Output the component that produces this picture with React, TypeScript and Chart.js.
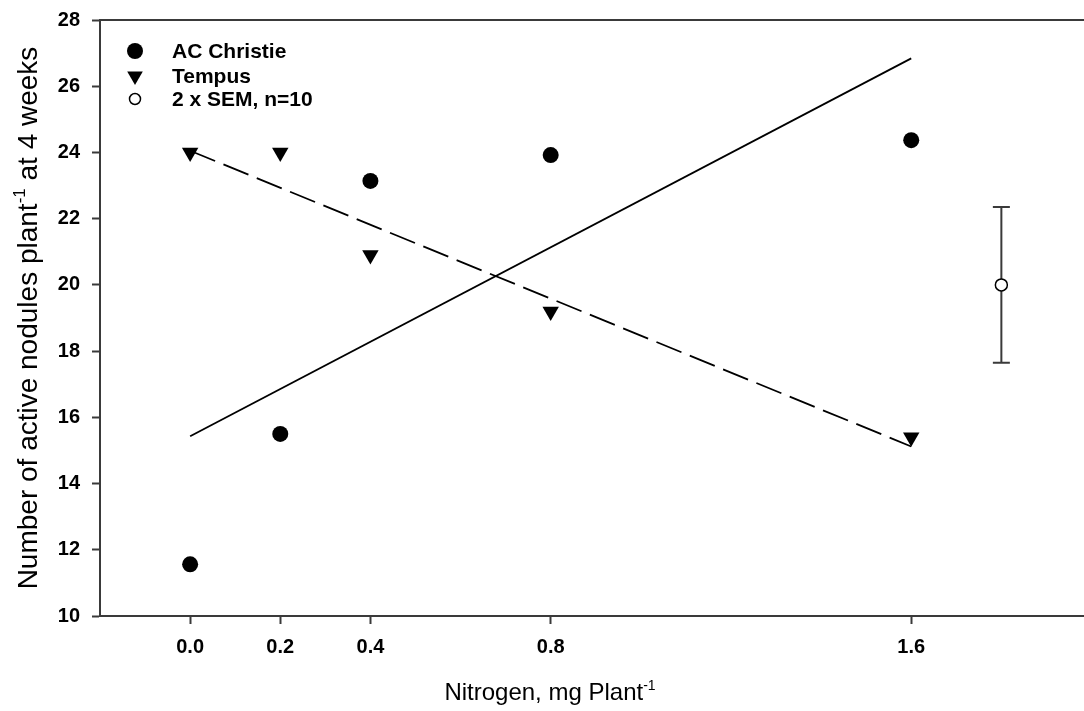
import { useEffect, useRef } from 'react';
import { Chart, registerables } from 'chart.js';

Chart.register(...registerables);

// ---- data ----
const nitrogen = [0, 0.2, 0.4, 0.8, 1.6];
const acChristie = [11.56, 15.5, 23.14, 23.92, 24.37];
const tempus = [24.0, 24.0, 20.9, 19.2, 15.4];
const fitX = [0, 1.6];
const acChristieFit = [15.43, 26.84];
const tempusFit = [24.05, 15.12];
const semX = [1.8];
const semY = [20];
const semHalf = [2.35];
const xTicks = [0, 0.2, 0.4, 0.8, 1.6];
const yTicks = [10, 12, 14, 16, 18, 20, 22, 24, 26, 28];
const legendLabels = ['AC Christie', 'Tempus', '2 x SEM, n=10'];
const xTitleParts = ['Nitrogen, mg Plant', '-1', ''];
const yTitleParts = ['Number of active nodules plant', '-1', ' at 4 weeks'];

const FONT = '"Liberation Sans", Arial, Helvetica, sans-serif';
const AXIS_COLOR = '#3a3a3a';

function drawSupText(ctx: CanvasRenderingContext2D, parts: string[], size: number, cx: number, baseline: number) {
  const supSize = Math.round(size * 0.6);
  ctx.font = `${size}px ${FONT}`;
  const w1 = ctx.measureText(parts[0]).width;
  const w3 = ctx.measureText(parts[2]).width;
  ctx.font = `${supSize}px ${FONT}`;
  const w2 = ctx.measureText(parts[1]).width;
  let x = cx - (w1 + w2 + w3) / 2;
  ctx.textAlign = 'left';
  ctx.textBaseline = 'alphabetic';
  ctx.fillStyle = '#000';
  ctx.font = `${size}px ${FONT}`;
  ctx.fillText(parts[0], x, baseline);
  x += w1;
  ctx.font = `${supSize}px ${FONT}`;
  ctx.fillText(parts[1], x, baseline - size * 0.42);
  x += w2;
  ctx.font = `${size}px ${FONT}`;
  ctx.fillText(parts[2], x, baseline);
}

const decorPlugin = {
  id: 'decor',
  beforeDatasetsDraw(chart: any) {
    const ctx: CanvasRenderingContext2D = chart.ctx;
    const xs = chart.scales.x;
    const ys = chart.scales.y;
    ctx.save();
    ctx.strokeStyle = AXIS_COLOR;
    ctx.lineWidth = 2;
    semX.forEach((sx, i) => {
      const px = xs.getPixelForValue(sx);
      const top = ys.getPixelForValue(semY[i] + semHalf[i]);
      const bot = ys.getPixelForValue(semY[i] - semHalf[i]);
      ctx.beginPath();
      ctx.moveTo(px, top);
      ctx.lineTo(px, bot);
      ctx.moveTo(px - 8.5, top);
      ctx.lineTo(px + 8.5, top);
      ctx.moveTo(px - 8.5, bot);
      ctx.lineTo(px + 8.5, bot);
      ctx.stroke();
    });
    // top frame line
    const a = chart.chartArea;
    ctx.beginPath();
    ctx.moveTo(a.left - 1, a.top);
    ctx.lineTo(a.right, a.top);
    ctx.stroke();
    ctx.restore();
  },
  afterDraw(chart: any) {
    const ctx: CanvasRenderingContext2D = chart.ctx;
    ctx.save();
    // legend
    const mx = 135;
    const rows = [51, 76, 99];
    const tx = 172;
    ctx.fillStyle = '#000';
    ctx.strokeStyle = '#000';
    // filled circle
    ctx.beginPath();
    ctx.arc(mx, rows[0], 8, 0, Math.PI * 2);
    ctx.fill();
    // down triangle
    const r = 9;
    ctx.beginPath();
    ctx.moveTo(mx, rows[1] + r);
    ctx.lineTo(mx - r * Math.sin(Math.PI / 3), rows[1] - r / 2);
    ctx.lineTo(mx + r * Math.sin(Math.PI / 3), rows[1] - r / 2);
    ctx.closePath();
    ctx.fill();
    // open circle
    ctx.beginPath();
    ctx.arc(mx, rows[2], 5.5, 0, Math.PI * 2);
    ctx.fillStyle = '#fff';
    ctx.fill();
    ctx.lineWidth = 1.5;
    ctx.stroke();
    ctx.fillStyle = '#000';
    ctx.font = `bold 21px ${FONT}`;
    ctx.textAlign = 'left';
    ctx.textBaseline = 'middle';
    legendLabels.forEach((t, i) => ctx.fillText(t, tx, rows[i] + 1));

    // axis titles
    drawSupText(ctx, xTitleParts, 24, 550, 700);
    const a = chart.chartArea;
    ctx.save();
    ctx.translate(37, (a.top + a.bottom) / 2);
    ctx.rotate(-Math.PI / 2);
    drawSupText(ctx, yTitleParts, 28, 0, 0);
    ctx.restore();
    ctx.restore();
  },
};

export default function App() {
  const ref = useRef<HTMLCanvasElement | null>(null);
  useEffect(() => {
    document.body.style.margin = '0';
    const canvas = ref.current;
    if (!canvas) return;
    const chart = new Chart(canvas, {
      type: 'scatter',
      data: {
        datasets: [
          {
            label: 'AC Christie fit',
            data: fitX.map((x, i) => ({ x, y: acChristieFit[i] })),
            showLine: true,
            borderColor: '#000',
            borderWidth: 1.8,
            pointRadius: 0,
          },
          {
            label: 'Tempus fit',
            data: fitX.map((x, i) => ({ x, y: tempusFit[i] })),
            showLine: true,
            borderColor: '#000',
            borderWidth: 1.8,
            borderDash: [27, 9],
            pointRadius: 0,
          },
          {
            label: legendLabels[0],
            data: nitrogen.map((x, i) => ({ x, y: acChristie[i] })),
            pointStyle: 'circle',
            pointRadius: 8,
            backgroundColor: '#000',
            borderColor: '#000',
            borderWidth: 0,
          },
          {
            label: legendLabels[1],
            data: nitrogen.map((x, i) => ({ x, y: tempus[i] })),
            pointStyle: 'triangle',
            pointRotation: 180,
            pointRadius: 9.5,
            backgroundColor: '#000',
            borderColor: '#000',
            borderWidth: 0,
          },
          {
            label: legendLabels[2],
            data: semX.map((x, i) => ({ x, y: semY[i] })),
            pointStyle: 'circle',
            pointRadius: 6,
            backgroundColor: '#fff',
            borderColor: '#000',
            borderWidth: 1.5,
          },
        ],
      },
      options: {
        animation: false,
        responsive: false,
        events: [],
        layout: { padding: { top: 20, right: 2, left: 0, bottom: 0 } },
        plugins: { legend: { display: false }, tooltip: { enabled: false }, title: { display: false } },
        scales: {
          x: {
            type: 'linear',
            min: -0.2,
            max: 2.0,
            afterBuildTicks: (s: any) => {
              s.ticks = xTicks.map((v) => ({ value: v }));
            },
            afterFit: (s: any) => {
              s.height = 95;
              s.paddingLeft = 0;
              s.paddingRight = 0;
            },
            ticks: {
              color: '#000',
              font: { family: FONT, size: 20, weight: 'bold' },
              padding: 11,
              maxRotation: 0,
              autoSkip: false,
              callback: (v: any) => Number(v).toFixed(1),
            },
            grid: { drawOnChartArea: false, drawTicks: true, tickLength: 8, tickWidth: 2, tickColor: AXIS_COLOR },
            border: { display: true, color: AXIS_COLOR, width: 2 },
          },
          y: {
            type: 'linear',
            min: 10,
            max: 28,
            afterBuildTicks: (s: any) => {
              s.ticks = yTicks.map((v) => ({ value: v }));
            },
            afterFit: (s: any) => {
              s.width = 100;
              s.paddingTop = 0;
              s.paddingBottom = 0;
            },
            ticks: {
              color: '#000',
              font: { family: FONT, size: 20, weight: 'bold' },
              padding: 12,
              autoSkip: false,
            },
            grid: { drawOnChartArea: false, drawTicks: true, tickLength: 8, tickWidth: 2, tickColor: AXIS_COLOR },
            border: { display: true, color: AXIS_COLOR, width: 2 },
          },
        },
      },
      plugins: [decorPlugin],
    } as any);
    return () => chart.destroy();
  }, []);
  return (
    <div style={{ position: 'absolute', left: 0, top: 0, width: 1084, height: 711, overflow: 'hidden', background: '#fff' }}>
      <canvas ref={ref} width={1101} height={711} style={{ width: 1101, height: 711, display: 'block' }} />
    </div>
  );
}
